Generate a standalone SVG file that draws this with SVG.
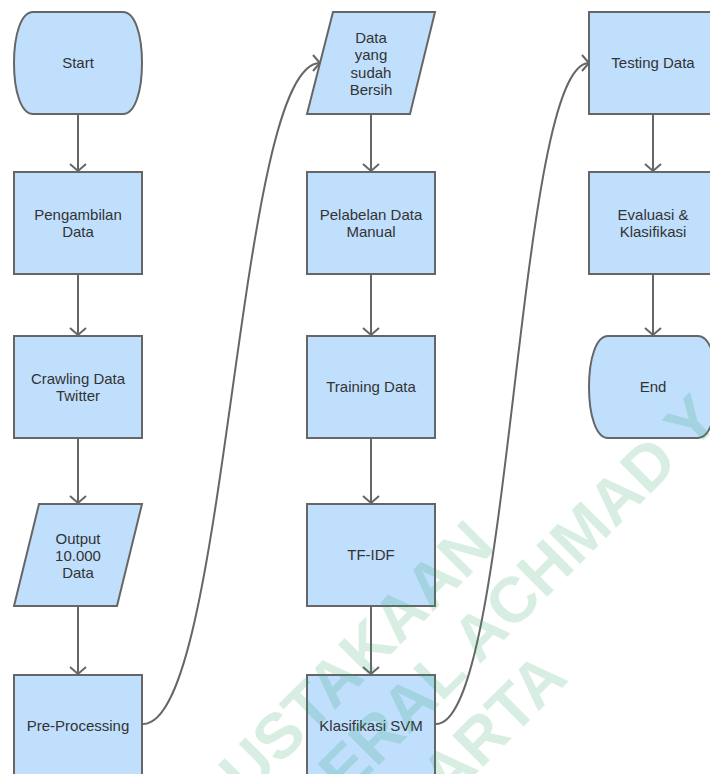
<svg xmlns="http://www.w3.org/2000/svg" width="710" height="774" viewBox="0 0 710 774">
<defs>
<style>
.shape{fill:#bfdffd;stroke:#666;stroke-width:2;stroke-linejoin:miter}
.lbl{font-family:"Liberation Sans",Arial,sans-serif;font-size:15px;fill:#333;text-anchor:middle}
.conn{fill:none;stroke:#666;stroke-width:2}
.wm{font-family:"Liberation Sans",Arial,sans-serif;font-weight:bold;font-size:64px;fill:#28a064;fill-opacity:0.18;text-anchor:end}
</style>
<marker id="arr" markerUnits="userSpaceOnUse" markerWidth="20" markerHeight="20" viewBox="-10 -10 20 20" refX="0" refY="0" orient="auto">
<path d="M-7,-8 L0,0 L-7,8" fill="none" stroke="#666" stroke-width="2"/>
</marker>
</defs>
<rect width="710" height="774" fill="#fff"/>

<g id="connectors">
<line class="conn" x1="78" y1="114" x2="78" y2="171" marker-end="url(#arr)"/>
<line class="conn" x1="78" y1="274" x2="78" y2="335" marker-end="url(#arr)"/>
<line class="conn" x1="78" y1="438" x2="78" y2="503" marker-end="url(#arr)"/>
<line class="conn" x1="78" y1="606" x2="78" y2="674" marker-end="url(#arr)"/>
<path class="conn" d="M143,724 C228,724 236,63 320,63" marker-end="url(#arr)"/>
<line class="conn" x1="371" y1="114" x2="371" y2="171" marker-end="url(#arr)"/>
<line class="conn" x1="371" y1="274" x2="371" y2="335" marker-end="url(#arr)"/>
<line class="conn" x1="371" y1="438" x2="371" y2="503" marker-end="url(#arr)"/>
<line class="conn" x1="371" y1="606" x2="371" y2="674" marker-end="url(#arr)"/>
<path class="conn" d="M436,724 C512,724 516,63 589,63" marker-end="url(#arr)"/>
<line class="conn" x1="653" y1="114" x2="653" y2="171" marker-end="url(#arr)"/>
<line class="conn" x1="653" y1="274" x2="653" y2="335" marker-end="url(#arr)"/>
</g>

<g id="start">
<path class="shape" d="M33,12 H123 C135,12 142,35 142,63 C142,91 135,114 123,114 H33 C21,114 14,91 14,63 C14,35 21,12 33,12 Z"/>
<text class="lbl" x="78" y="68">Start</text>
</g>
<g id="pengambilan">
<rect class="shape" x="14" y="172" width="128" height="102"/>
<text class="lbl" x="78" y="220">Pengambilan</text>
<text class="lbl" x="78" y="237">Data</text>
</g>
<g id="crawling">
<rect class="shape" x="14" y="336" width="128" height="102"/>
<text class="lbl" x="78" y="384">Crawling Data</text>
<text class="lbl" x="78" y="401">Twitter</text>
</g>
<g id="output">
<polygon class="shape" points="39,504 142,504 117,606 14,606"/>
<text class="lbl" x="78" y="544">Output</text>
<text class="lbl" x="78" y="561">10.000</text>
<text class="lbl" x="78" y="578">Data</text>
</g>
<g id="preprocessing">
<rect class="shape" x="14" y="675" width="128" height="102"/>
<text class="lbl" x="78" y="731">Pre-Processing</text>
</g>

<g id="data-bersih">
<polygon class="shape" points="333,12 435,12 410,114 307,114"/>
<text class="lbl" x="371" y="43">Data</text>
<text class="lbl" x="371" y="60">yang</text>
<text class="lbl" x="371" y="78">sudah</text>
<text class="lbl" x="371" y="95">Bersih</text>
</g>
<g id="pelabelan">
<rect class="shape" x="307" y="172" width="128" height="102"/>
<text class="lbl" x="371" y="220">Pelabelan Data</text>
<text class="lbl" x="371" y="237">Manual</text>
</g>
<g id="training">
<rect class="shape" x="307" y="336" width="128" height="102"/>
<text class="lbl" x="371" y="392">Training Data</text>
</g>
<g id="tfidf">
<rect class="shape" x="307" y="504" width="128" height="102"/>
<text class="lbl" x="371" y="560">TF-IDF</text>
</g>
<g id="svm">
<rect class="shape" x="307" y="675" width="128" height="102"/>
<text class="lbl" x="371" y="731">Klasifikasi SVM</text>
</g>

<g id="testing">
<rect class="shape" x="589" y="12" width="128" height="102"/>
<text class="lbl" x="653" y="68">Testing Data</text>
</g>
<g id="evaluasi">
<rect class="shape" x="589" y="172" width="128" height="102"/>
<text class="lbl" x="653" y="220">Evaluasi &amp;</text>
<text class="lbl" x="653" y="237">Klasifikasi</text>
</g>
<g id="end">
<path class="shape" d="M608,336 H698 C710,336 717,359 717,387 C717,415 710,438 698,438 H608 C596,438 589,415 589,387 C589,359 596,336 608,336 Z"/>
<text class="lbl" x="653" y="392">End</text>
</g>

<g id="watermark">
<text class="wm" transform="translate(497,548) rotate(-45)">USTAKAAN</text>
<text class="wm" transform="translate(722,422) rotate(-45)">ERAL ACHMAD Y</text>
<text class="wm" transform="translate(570,680) rotate(-45)">ARTA</text>
</g>
</svg>
